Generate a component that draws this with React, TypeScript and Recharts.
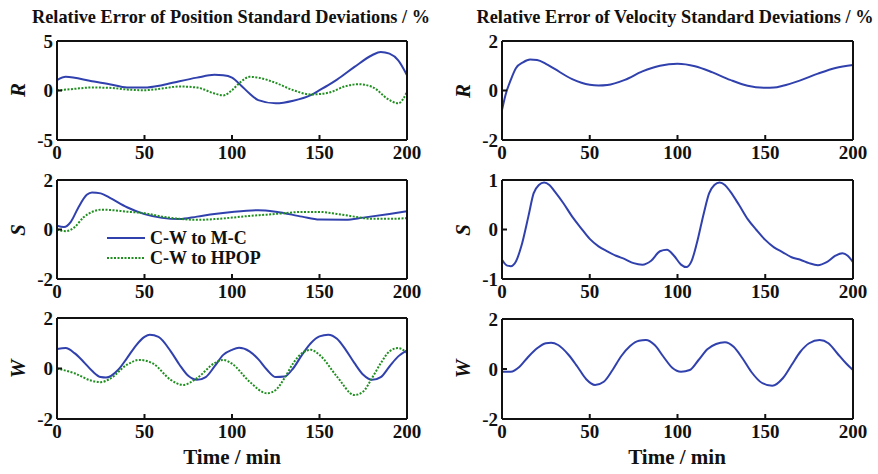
import React from 'react';
import { LineChart, Line, XAxis, YAxis, Legend } from 'recharts';

// time (min) and relative error (%)
const posR_mcT = [0, 5, 20, 30, 40, 50, 60, 70, 80, 90, 95, 100, 105, 110, 115, 125, 135, 145, 150, 155, 160, 170, 180, 185, 190, 195, 200];
const posR_mc = [1.04, 1.38, 0.94, 0.64, 0.3, 0.3, 0.54, 0.94, 1.3, 1.58, 1.54, 1.3, 0.54, -0.3, -0.97, -1.3, -1.04, -0.47, 0.03, 0.54, 1.1, 2.38, 3.56, 3.9, 3.72, 3.05, 1.54];
const posR_hpT = [0, 10, 20, 30, 40, 50, 60, 70, 80, 90, 95, 100, 105, 110, 115, 125, 135, 145, 155, 165, 172, 180, 190, 195, 200];
const posR_hp = [0, 0.17, 0.3, 0.27, 0.1, 0.03, 0.2, 0.4, 0.3, -0.3, -0.5, 0.03, 0.87, 1.38, 1.3, 0.77, 0.03, -0.4, -0.23, 0.44, 0.64, 0.37, -0.97, -1.3, -0.13];

const posS_mcT = [0, 4, 8, 12, 17, 20, 25, 30, 40, 50, 60, 70, 80, 90, 100, 115, 125, 140, 150, 165, 175, 190, 200];
const posS_mc = [0.15, 0.1, 0.32, 0.86, 1.4, 1.5, 1.46, 1.29, 0.9, 0.62, 0.47, 0.42, 0.52, 0.63, 0.71, 0.78, 0.72, 0.52, 0.4, 0.39, 0.48, 0.63, 0.74];
const posS_hpT = [0, 5, 10, 15, 20, 25, 30, 40, 50, 60, 70, 80, 90, 100, 110, 120, 130, 140, 150, 160, 170, 180, 190, 200];
const posS_hp = [0, -0.07, 0.09, 0.48, 0.71, 0.8, 0.79, 0.72, 0.66, 0.52, 0.43, 0.39, 0.42, 0.48, 0.55, 0.6, 0.66, 0.71, 0.71, 0.63, 0.52, 0.43, 0.43, 0.46];

const posW_mcT = [0, 5, 10, 15, 20, 25, 28, 35, 40, 45, 50, 53, 58, 65, 70, 75, 80, 85, 90, 95, 100, 104, 110, 115, 120, 125, 130, 135, 140, 145, 150, 155, 160, 165, 170, 175, 180, 185, 190, 195, 200];
const posW_mc = [0.77, 0.81, 0.61, 0.28, -0.09, -0.34, -0.36, -0.05, 0.41, 0.9, 1.25, 1.34, 1.25, 0.68, 0.15, -0.29, -0.45, -0.34, 0.08, 0.54, 0.74, 0.82, 0.68, 0.37, -0.05, -0.34, -0.32, 0.01, 0.54, 1.0, 1.27, 1.34, 1.18, 0.74, 0.21, -0.25, -0.45, -0.34, 0.08, 0.48, 0.72];
const posW_hpT = [0, 10, 20, 25, 30, 40, 47, 55, 65, 72, 80, 90, 95, 100, 110, 120, 125, 130, 135, 140, 145, 150, 160, 170, 175, 180, 185, 190, 195, 200];
const posW_hp = [0, -0.19, -0.49, -0.54, -0.42, 0.15, 0.34, 0.19, -0.45, -0.65, -0.38, 0.21, 0.34, 0.19, -0.52, -0.98, -0.85, -0.38, 0.21, 0.61, 0.74, 0.54, -0.32, -1.05, -0.91, -0.38, 0.21, 0.68, 0.81, 0.61];

const velR_T = [0, 2, 5, 8, 12, 16, 20, 25, 30, 40, 50, 55, 60, 70, 80, 90, 100, 110, 120, 130, 140, 150, 155, 160, 170, 180, 190, 200];
const velR = [-0.79, -0.18, 0.43, 0.91, 1.14, 1.25, 1.23, 1.08, 0.87, 0.46, 0.23, 0.2, 0.22, 0.43, 0.77, 1.0, 1.08, 0.98, 0.73, 0.43, 0.19, 0.11, 0.12, 0.19, 0.41, 0.68, 0.91, 1.03];

const velS_T = [0, 3, 5, 8, 11, 15, 18, 21, 24, 27, 30, 35, 40, 45, 50, 55, 60, 65, 70, 75, 80, 85, 90, 94, 98, 102, 105, 108, 111, 115, 118, 121, 124, 127, 130, 135, 140, 145, 150, 155, 160, 165, 170, 175, 180, 185, 190, 194, 197, 200];
const velS = [-0.61, -0.73, -0.74, -0.64, -0.34, 0.26, 0.73, 0.9, 0.95, 0.9, 0.77, 0.53, 0.26, 0.03, -0.19, -0.34, -0.44, -0.53, -0.6, -0.68, -0.71, -0.63, -0.44, -0.41, -0.53, -0.71, -0.76, -0.64, -0.28, 0.33, 0.73, 0.9, 0.95, 0.9, 0.77, 0.5, 0.21, -0.01, -0.21, -0.36, -0.46, -0.56, -0.61, -0.68, -0.72, -0.66, -0.53, -0.48, -0.53, -0.66];

const velW_T = [0, 5, 10, 15, 20, 25, 28, 32, 38, 43, 48, 53, 58, 63, 68, 73, 78, 82, 87, 92, 97, 102, 107, 112, 117, 122, 127, 132, 137, 142, 148, 154, 160, 165, 170, 175, 181, 186, 191, 196, 200];
const velW = [-0.11, -0.11, 0.09, 0.49, 0.83, 1.03, 1.05, 0.96, 0.56, 0.09, -0.41, -0.64, -0.51, -0.04, 0.52, 0.92, 1.13, 1.16, 0.96, 0.49, 0.05, -0.11, -0.04, 0.36, 0.79, 1.0, 1.07, 0.89, 0.43, -0.11, -0.55, -0.67, -0.37, 0.16, 0.69, 1.03, 1.16, 1.03, 0.63, 0.23, -0.04];

const xTicks = [0, 50, 100, 150, 200];
const seriesNames = ['C-W to M-C', 'C-W to HPOP'];

const BLUE = '#3041ad';
const GREEN = '#1f8f1f';
const FONT = '"Liberation Serif", "Times New Roman", serif';

const zip = (t: number[], v: number[]) => t.map((x, i) => ({ t: x, v: v[i] }));

type Series = { name: string; data: { t: number; v: number }[]; color: string; dash?: string };

const tickStyle = { fontFamily: FONT, fontWeight: 'bold' as const, fontSize: 19, fill: '#111' };

const LegendBox = () => (
  <svg width={190} height={44}>
    <line x1={0} y1={12} x2={38} y2={12} stroke={BLUE} strokeWidth={2} />
    <text x={43} y={18} style={{ ...tickStyle, fontSize: 18 }}>{seriesNames[0]}</text>
    <line x1={0} y1={32} x2={38} y2={32} stroke={GREEN} strokeWidth={2} strokeDasharray="2 1.5" />
    <text x={43} y={38} style={{ ...tickStyle, fontSize: 18 }}>{seriesNames[1]}</text>
  </svg>
);

const Panel = ({ left, top, w, h, domain, yTicks, series, legend }: {
  left: number; top: number; w: number; h: number; domain: [number, number]; yTicks: number[]; series: Series[]; legend?: boolean;
}) => (
  <div style={{ position: 'absolute', left: left - 50, top: top - 10 }}>
    <LineChart width={w + 70} height={h + 40} margin={{ top: 9, right: 19, bottom: 0, left: 0 }}>
      <XAxis dataKey="t" type="number" domain={[0, 200]} ticks={xTicks} allowDataOverflow
        height={30} tickSize={-5} tickMargin={11} stroke="#111" strokeWidth={2} tick={tickStyle} interval={0} />
      <XAxis xAxisId="top" orientation="top" type="number" domain={[0, 200]} ticks={xTicks} allowDataOverflow
        height={1} tickSize={-5} stroke="#111" strokeWidth={2} tick={false} />
      <YAxis type="number" domain={domain} ticks={yTicks} allowDataOverflow width={50}
        tickSize={-5} tickMargin={9} stroke="#111" strokeWidth={2} tick={tickStyle} interval={0} />
      <YAxis yAxisId="right" orientation="right" type="number" domain={domain} ticks={yTicks} allowDataOverflow width={1}
        tickSize={-5} stroke="#111" strokeWidth={2} tick={false} />
      {series.map((s) => (
        <Line key={s.name} data={s.data} dataKey="v" name={s.name} type="monotone" stroke={s.color}
          strokeWidth={2} strokeDasharray={s.dash} dot={false} isAnimationActive={false} />
      ))}
      {legend && (
        <Legend layout="vertical" align="center" verticalAlign="middle" content={() => <LegendBox />}
          wrapperStyle={{ left: 100, top: 56, width: 190 }} />
      )}
    </LineChart>
  </div>
);

const labelStyle = { fontFamily: FONT, fontWeight: 'bold' as const, fill: '#111' };

export default function App() {
  const L = 57, R = 502, W = 350;
  return (
    <div style={{ position: 'absolute', left: 0, top: 0, width: 878, height: 474, background: '#fff' }}>
      <Panel left={L} top={41} w={W} h={99} domain={[-5, 5]} yTicks={[-5, 0, 5]} series={[
        { name: seriesNames[0], data: zip(posR_mcT, posR_mc), color: BLUE },
        { name: seriesNames[1], data: zip(posR_hpT, posR_hp), color: GREEN, dash: '2 1.5' },
      ]} />
      <Panel left={L} top={180} w={W} h={99} domain={[-2, 2]} yTicks={[-2, 0, 2]} legend series={[
        { name: seriesNames[0], data: zip(posS_mcT, posS_mc), color: BLUE },
        { name: seriesNames[1], data: zip(posS_hpT, posS_hp), color: GREEN, dash: '2 1.5' },
      ]} />
      <Panel left={L} top={318} w={W} h={101} domain={[-2, 2]} yTicks={[-2, 0, 2]} series={[
        { name: seriesNames[0], data: zip(posW_mcT, posW_mc), color: BLUE },
        { name: seriesNames[1], data: zip(posW_hpT, posW_hp), color: GREEN, dash: '2 1.5' },
      ]} />
      <Panel left={R} top={41} w={351} h={99} domain={[-2, 2]} yTicks={[-2, 0, 2]} series={[
        { name: seriesNames[0], data: zip(velR_T, velR), color: BLUE },
      ]} />
      <Panel left={R} top={180} w={351} h={99} domain={[-1, 1]} yTicks={[-1, 0, 1]} series={[
        { name: seriesNames[0], data: zip(velS_T, velS), color: BLUE },
      ]} />
      <Panel left={R} top={319} w={351} h={100} domain={[-2, 2]} yTicks={[-2, 0, 2]} series={[
        { name: seriesNames[0], data: zip(velW_T, velW), color: BLUE },
      ]} />
      <svg width={878} height={474} style={{ position: 'absolute', left: 0, top: 0, pointerEvents: 'none' }}>
        <text x={231} y={23} textAnchor="middle" style={{ ...labelStyle, fontSize: 18.3 }}>Relative Error of Position Standard Deviations / %</text>
        <text x={675} y={23} textAnchor="middle" style={{ ...labelStyle, fontSize: 18.3 }}>Relative Error of Velocity Standard Deviations / %</text>
        <text x={232} y={464} textAnchor="middle" style={{ ...labelStyle, fontSize: 21 }}>Time / min</text>
        <text x={677} y={464} textAnchor="middle" style={{ ...labelStyle, fontSize: 21 }}>Time / min</text>
        {[['R', 90, 25], ['S', 230, 25], ['W', 369, 25], ['R', 91, 470], ['S', 230, 470], ['W', 369, 470]].map(([t, y, x], i) => (
          <text key={i} transform={`translate(${x},${y}) rotate(-90)`} textAnchor="middle"
            style={{ ...labelStyle, fontSize: 21, fontStyle: 'italic' }}>{t}</text>
        ))}
      </svg>
    </div>
  );
}
